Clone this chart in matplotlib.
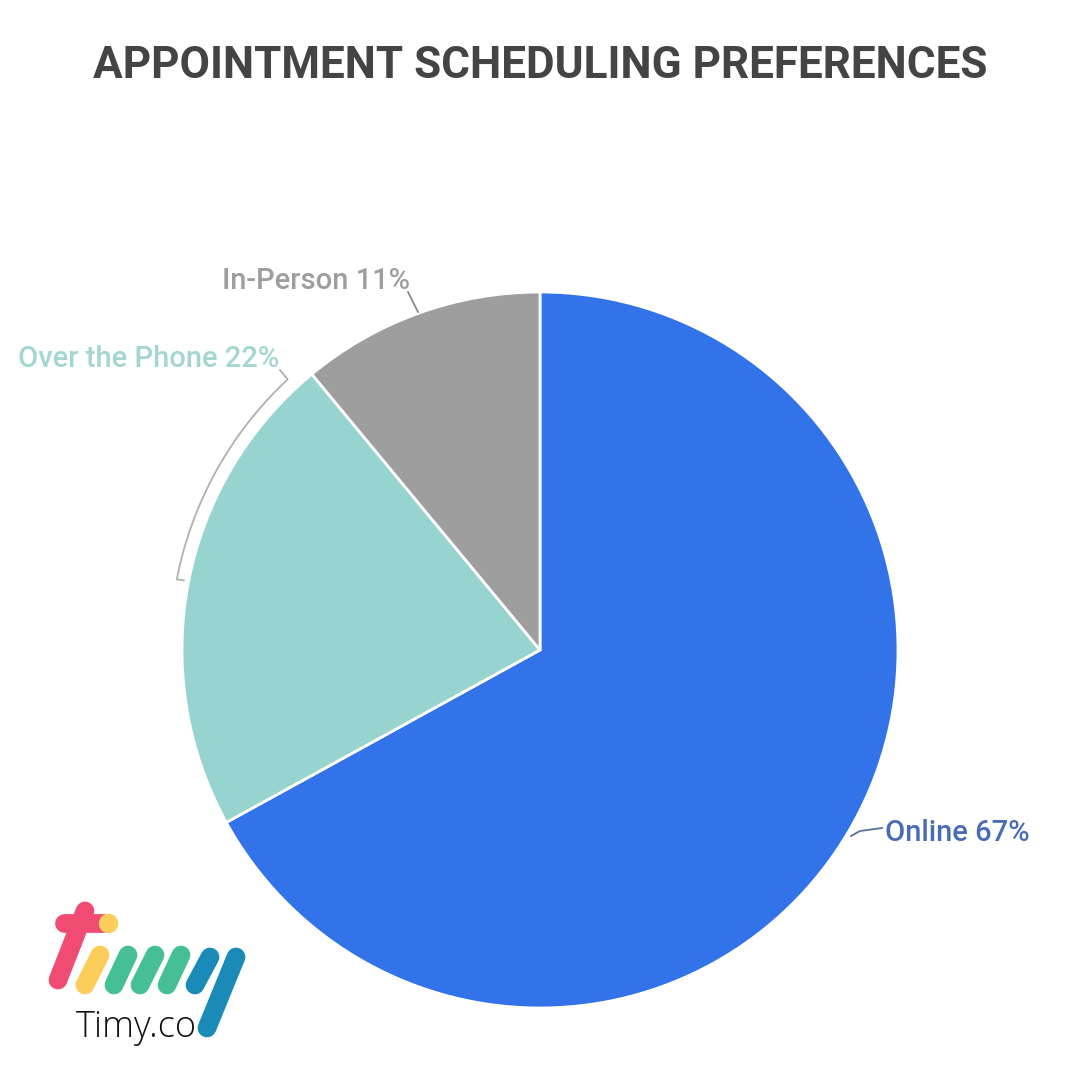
import matplotlib.pyplot as plt
import numpy as np

# Données du graphique
categories = ["Online", "Over the Phone", "In-Person"]
valeurs = [67, 22, 11]
couleurs = ["#3373ea", "#98d4cf", "#9e9e9e"]
couleurs_texte = ["#4a6cb3", "#a3d6d2", "#9e9e9e"]
titre = "APPOINTMENT SCHEDULING PREFERENCES"

H = 1080  # hauteur en pixels, on travaille en coordonnées pixel (y vers le haut)


def py(y):
    # conversion y écran -> y axes
    return H - y


fig = plt.figure(figsize=(10.8, 10.8), dpi=100)
ax = fig.add_axes([0, 0, 1, 1])

cx, cy, r = 540, py(650), 358
wedges, _ = ax.pie(valeurs, startangle=90, counterclock=False, colors=couleurs,
                   center=(cx, cy), radius=r,
                   wedgeprops=dict(edgecolor="white", linewidth=2))
ax.set_xlim(0, 1080)
ax.set_ylim(0, 1080)
ax.set_aspect("equal")
ax.axis("off")

# Titre
ax.text(540, py(66), titre, ha="center", va="center", fontsize=31.8,
        fontweight="bold", family="Roboto", color="#444444")

# Étiquettes
lab = [f"{c} {v}%" for c, v in zip(categories, valeurs)]
ax.text(885, py(833), lab[0], ha="left", va="center", fontsize=21,
        family="Roboto", fontweight="medium", color=couleurs_texte[0])
ax.text(279, py(359), lab[1], ha="right", va="center", fontsize=21,
        family="Roboto", fontweight="medium", color=couleurs_texte[1])
ax.text(410, py(281), lab[2], ha="right", va="center", fontsize=21,
        family="Roboto", fontweight="medium", color=couleurs_texte[2])

# Lignes de rappel
ax.plot([851, 860, 882], [py(836), py(831), py(828)], color="#5a6f9a", lw=1.3)
ax.plot([408, 418], [py(292), py(312)], color="#8a8a8a", lw=1.3)

# accolade le long de l'arc "Over the Phone"
t = np.radians(np.linspace(133, 169, 60))
rb = 370
bx = cx + rb * np.cos(t)
by = cy + rb * np.sin(t)
ax.plot(np.r_[280, bx, bx[-1] + 7], np.r_[py(370), by, by[-1] - 1],
        color="#b0b0b0", lw=1.3)

# Logo Timy
traits = [
    ((85, 911), (58, 980), "#f04b72"),
    ((64, 923), (104, 923), "#f04b72"),
    ((100, 955), (85, 985), "#fdcd5b"),
    ((128, 955), (114, 985), "#46bf96"),
    ((155, 955), (140, 985), "#46bf96"),
    ((181, 955), (167, 985), "#46bf96"),
    ((210, 957), (195, 985), "#1a8bb8"),
    ((236, 957), (207, 1028), "#1a8bb8"),
]
for (x0, y0), (x1, y1), c in traits:
    ax.plot([x0, x1], [py(y0), py(y1)], color=c, lw=13.5, solid_capstyle="round")
ax.plot([108], [py(923)], "o", color="#fdcd5b", ms=13)
ax.text(76, py(1028), "Timy.co", ha="left", va="center", fontsize=26,
        family="Open Sans", fontweight="light", color="#111111")

fig.savefig("out.png", dpi=100, facecolor="white")
